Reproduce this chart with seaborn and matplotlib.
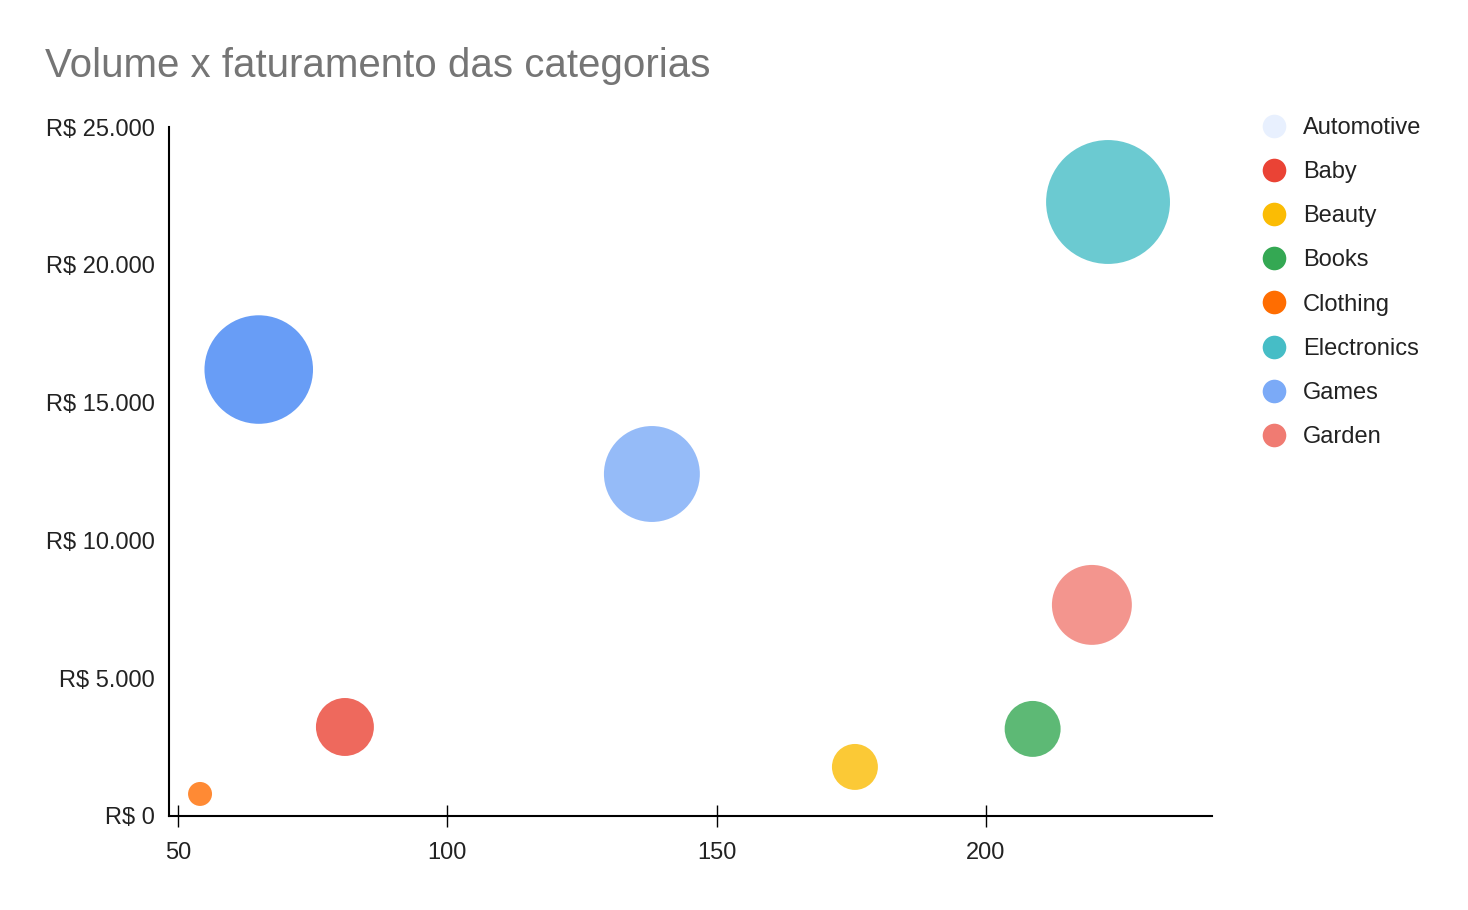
import pandas as pd
import seaborn as sns
import matplotlib.pyplot as plt
from matplotlib.lines import Line2D
from matplotlib.ticker import FuncFormatter

# dados
categorias = ["Automotive", "Baby", "Beauty", "Books", "Clothing", "Electronics", "Games", "Garden"]
volume = [65, 81, 175.7, 208.7, 54.1, 222.7, 138, 219.7]
faturamento = [16200, 3230, 1780, 3160, 800, 22280, 12410, 7660]
tamanho = [2950, 841, 529, 784, 144, 3844, 2304, 1600]
cores = ["#4285f4", "#ea4335", "#fbbc04", "#34a853", "#ff6d01", "#46bdc6", "#7baaf7", "#f07b72"]
cores_legenda = ["#e8f0fe", "#ea4335", "#fbbc04", "#34a853", "#ff6d01", "#46bdc6", "#7baaf7", "#f07b72"]

df = pd.DataFrame({"Categoria": categorias, "Volume": volume,
                   "Faturamento": faturamento, "Tamanho": tamanho})

sns.set_style("white")
plt.rcParams['font.family'] = ['Liberation Sans', 'DejaVu Sans']

fig = plt.figure(figsize=(14.68, 9.10), dpi=100)
ax = fig.add_axes([0.1151, 0.1033, 0.7105, 0.7571])

sns.scatterplot(data=df, x="Volume", y="Faturamento", hue="Categoria", size="Tamanho",
                palette=dict(zip(categorias, cores)), sizes=(0, 2.07 * 3844),
                size_norm=(0, max(tamanho)), alpha=0.8, linewidth=0, legend=False, ax=ax)

ax.set_xlim(48.33, 242)
ax.set_ylim(0, 25000)
ax.set_xticks([50, 100, 150, 200])
ax.set_yticks([0, 5000, 10000, 15000, 20000, 25000])
ax.yaxis.set_major_formatter(FuncFormatter(lambda v, p: "R$ " + f"{int(v):,}".replace(",", ".")))
ax.set_xlabel("")
ax.set_ylabel("")

for s in ["top", "right"]:
    ax.spines[s].set_visible(False)
ax.spines["bottom"].set_linewidth(1.5)
ax.spines["left"].set_linewidth(1.5)
ax.spines["bottom"].set_color("black")
ax.spines["left"].set_color("black")

ax.tick_params(axis="x", bottom=True, direction="inout", length=16, width=1, color="black",
               labelsize=17, labelcolor="#222222", pad=11)
ax.tick_params(axis="y", left=False, length=0, labelsize=17, labelcolor="#222222", pad=10)

fig.text(0.0307, 0.927, "Volume x faturamento das categorias", fontsize=29,
         color="#757575", va="center", ha="left")

handles = [Line2D([0], [0], marker="o", linestyle="", markersize=17,
                  markerfacecolor=c, markeredgewidth=0) for c in cores_legenda]
fig.legend(handles, categorias, loc="upper left", bbox_to_anchor=(0.852, 0.882),
           frameon=False, fontsize=17, labelcolor="#222222", labelspacing=0.94,
           handletextpad=0.6, handlelength=1.2, borderaxespad=0)

fig.savefig("out.png", dpi=100)
